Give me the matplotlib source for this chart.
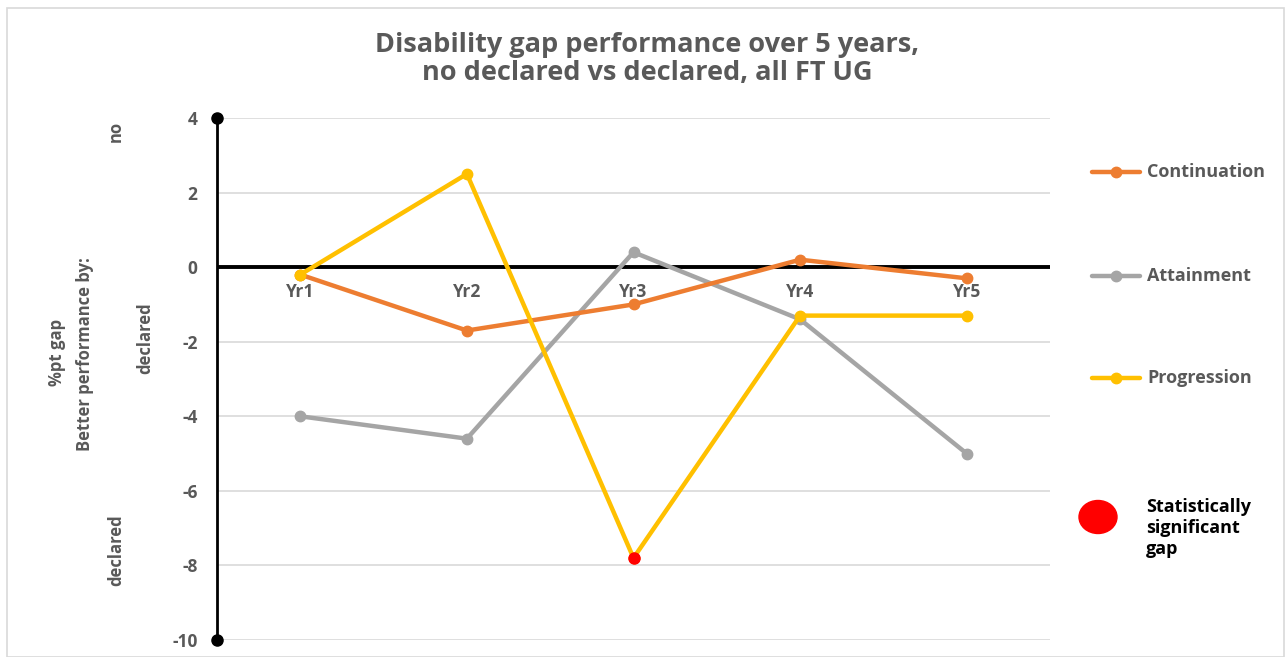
import matplotlib
matplotlib.use("Agg")
import matplotlib.pyplot as plt
from matplotlib.lines import Line2D
from matplotlib.patches import Rectangle, Ellipse

# Data
years = ["Yr1", "Yr2", "Yr3", "Yr4", "Yr5"]
continuation = [-0.2, -1.7, -1.0, 0.2, -0.3]
attainment = [-4.0, -4.6, 0.4, -1.4, -5.0]
progression = [-0.2, 2.5, -7.8, -1.3, -1.3]
# statistically significant gaps: (series, year index)
significant = [("Progression", 2)]
y_ticks = [4, 2, 0, -2, -4, -6, -8, -10]

series = {
    "Continuation": (continuation, "#ED7D31"),
    "Attainment": (attainment, "#A5A5A5"),
    "Progression": (progression, "#FFC000"),
}

plt.rcParams["font.family"] = ["Open Sans", "DejaVu Sans"]
TXT = "#595959"

fig = plt.figure(figsize=(12.87, 6.57), dpi=100)
ax = fig.add_axes([217 / 1287, 1 - 640 / 657, (1050 - 217) / 1287, (640 - 118) / 657])

x = list(range(1, len(years) + 1))
order = ["Attainment", "Continuation", "Progression"]
for name in order:
    vals, col = series[name]
    ax.plot(x, vals, color=col, lw=3.2, marker="o", ms=7.5, solid_capstyle="round",
            zorder=3, clip_on=False)

for name, idx in significant:
    vals, _ = series[name]
    ax.plot(x[idx], vals[idx], "o", color="#FF0000", ms=8, zorder=5, clip_on=False)

ax.set_xlim(0.5, 5.5)
ax.set_ylim(-10, 4)
ax.set_yticks(y_ticks)
ax.set_yticklabels([str(t) for t in y_ticks])
ax.tick_params(axis="y", length=0, pad=14, labelsize=12.5, labelcolor=TXT)
for lab in ax.get_yticklabels():
    lab.set_fontweight("bold")
ax.set_xticks([])
ax.grid(axis="y", color="#D9D9D9", lw=1.2)
ax.set_axisbelow(True)
for s in ["top", "right", "bottom"]:
    ax.spines[s].set_visible(False)
ax.spines["left"].set_color("black")
ax.spines["left"].set_linewidth(2)
ax.spines["left"].set_zorder(4)

# zero line
ax.axhline(0, color="black", lw=2.8, zorder=2)
# end caps on the value axis
ax.plot([0.5, 0.5], [4, -10], "o", color="black", ms=8, clip_on=False, zorder=6)

# category labels beside the zero line
for xi, lab in zip(x, years):
    ax.annotate(lab, (xi, 0), xytext=(0, -18), textcoords="offset points",
                ha="center", va="center", fontsize=12.5, fontweight="bold", color=TXT)

# Title
fig.text(647 / 1287, 1 - 59 / 657,
         "Disability gap performance over 5 years,\nno declared vs declared, all FT UG",
         ha="center", va="center", fontsize=19.5, fontweight="bold", color=TXT,
         linespacing=1.1)

# Axis side labels
def vtext(px, py, s, size=12):
    fig.text(px / 1287, 1 - py / 657, s, rotation=90, ha="center", va="center",
             fontsize=size, fontweight="bold", color=TXT)

vtext(116, 131, "no")
vtext(145, 338, "declared")
vtext(57, 352, "%pt gap")
vtext(85, 354, "Better performance by:")
vtext(116, 550, "declared")

# Legend
for (name, (vals, col)), py in zip(series.items(), [172, 276, 378]):
    yy = 1 - py / 657
    fig.add_artist(Line2D([1092 / 1287, 1140 / 1287], [yy, yy], color=col, lw=3.2,
                          solid_capstyle="round"))
    fig.add_artist(Line2D([1116 / 1287], [yy], marker="o", color=col, ms=7.5))
    fig.text(1147 / 1287, yy, name, ha="left", va="center", fontsize=13,
             fontweight="bold", color=TXT)

fig.add_artist(Ellipse((1098 / 1287, 1 - 517 / 657), 38 / 1287, 33 / 657,
                       transform=fig.transFigure, color="#FF0000"))
fig.text(1146 / 1287, 1 - 528 / 657, "Statistically\nsignificant\ngap", ha="left",
         va="center", fontsize=13, fontweight="bold", color="black", linespacing=1.22)

# chart frame
fig.add_artist(Rectangle((7 / 1287, 0), 1277 / 1287, 1 - 8 / 657, transform=fig.transFigure,
                         fill=False, ec="#D9D9D9", lw=1.2))

fig.savefig("out.png", dpi=100)
